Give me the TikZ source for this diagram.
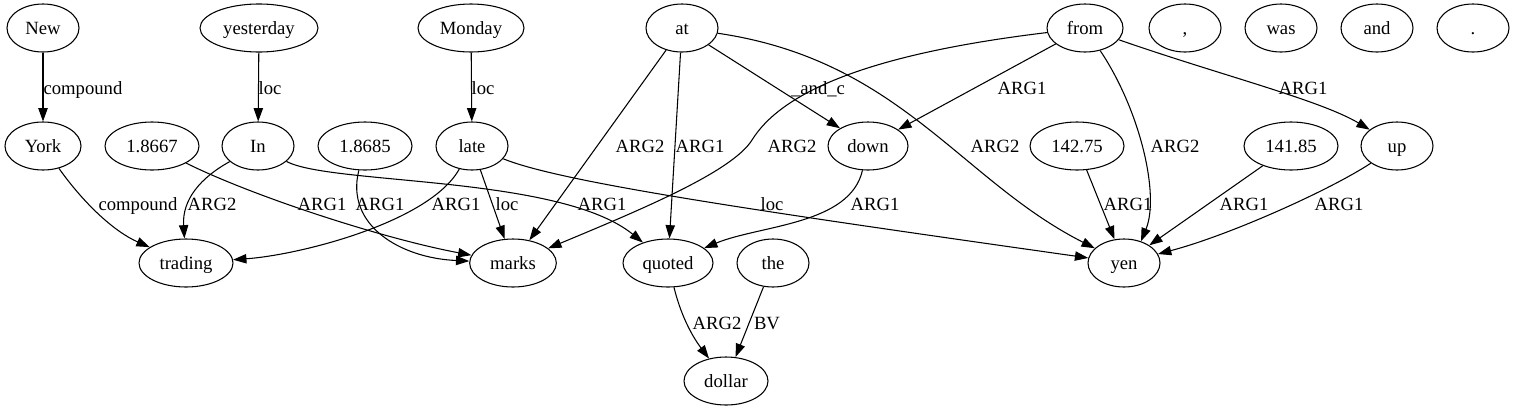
\documentclass[tikz,border=0pt]{standalone}
\usepackage{fontspec}
\setmainfont{Liberation Serif}
\usetikzlibrary{arrows.meta,shapes.geometric}

\begin{document}
\begin{tikzpicture}[->,>={Triangle[length=10pt,width=7pt]},x=0.75pt,y=-0.75pt,line width=0.8pt]
        \tikzstyle{word}=[ellipse,draw=black,text=black,minimum width=54pt,minimum height=36pt,inner sep=1pt,text height=9pt,text depth=0pt,font=\fontsize{14}{16}\selectfont]
        \tikzstyle{lbl}=[inner sep=0pt,text height=9pt,text depth=0pt,font=\fontsize{14}{16}\selectfont]
        \useasboundingbox (0,0) rectangle (1515,411);

        % top row
        \node[word] (new)       at (43,28)   {New};
        \node[word, minimum width=88.5pt] (yesterday) at (259,28) {yesterday};
        \node[word, minimum width=79.5pt] (monday)    at (471,28) {Monday};
        \node[word] (at)        at (682,28)  {at};
        \node[word, minimum width=57pt] (from) at (1085,28) {from};
        \node[word] (comma)     at (1185,28) {,};
        \node[word] (was)       at (1281,28) {was};
        \node[word] (and)       at (1377,28) {and};
        \node[word] (stop)      at (1473,28) {.};

        % second row
        \node[word, minimum width=57pt]   (york)  at (43,146)   {York};
        \node[word, minimum width=70.5pt] (r8667) at (152,146)  {1.8667};
        \node[word] (in)                  at (258,146)  {In};
        \node[word, minimum width=70.5pt] (r8685) at (365,146)  {1.8685};
        \node[word] (late)                at (472,146)  {late};
        \node[word, minimum width=60pt]   (down)  at (868,146)  {down};
        \node[word, minimum width=70.5pt] (y4275) at (1077,146) {142.75};
        \node[word, minimum width=70.5pt] (y4185) at (1291,146) {141.85};
        \node[word] (up)                  at (1397,146) {up};

        % third and fourth row
        \node[word, minimum width=70.5pt] (trading) at (186,263) {trading};
        \node[word, minimum width=65pt]   (marks)   at (513,263) {marks};
        \node[word, minimum width=67.5pt] (quoted)  at (668,263) {quoted};
        \node[word] (the)                 at (773,263)  {the};
        \node[word] (yen)                 at (1124,263) {yen};
        \node[word, minimum width=63pt]   (dollar)  at (726,381) {dollar};

        \draw (new) -- (york) node[lbl] at (83,88) {compound};
        \draw (york) .. controls (85,205) and (115,232) .. (trading) node[lbl] at (138,204) {compound};
        \draw (yesterday) -- (in) node[lbl] at (270,88) {loc};
        \draw (monday) -- (late) node[lbl] at (483,88) {loc};
        \draw (in) .. controls (200,178) and (182,200) .. (trading) node[lbl] at (212,204) {ARG2};
        \draw (r8667) .. controls (250,195) and (380,238) .. (marks) node[lbl] at (322,204) {ARG1};
        \draw (r8685) .. controls (345,225) and (400,258) .. (marks) node[lbl] at (380,204) {ARG1};
        \draw (late) .. controls (430,222) and (300,255) .. (trading) node[lbl] at (456,204) {ARG1};
        \draw (late) -- (marks) node[lbl] at (507,204) {loc};
        \draw (in) .. controls (330,185) and (560,175) .. (quoted) node[lbl] at (602,204) {ARG1};
        \draw (late) .. controls (560,182) and (750,210) .. (yen) node[lbl] at (772,204) {loc};

        \draw (at) -- (marks) node[lbl] at (640,146) {ARG2};
        \draw (at) -- (quoted) node[lbl] at (700,146) {ARG1};
        \draw (at) -- (down) node[lbl] at (818,88) {\_and\_c};
        \draw (at) .. controls (900,60) and (960,180) .. (yen) node[lbl] at (995,146) {ARG2};
        \draw (from) .. controls (860,55) and (780,95) .. (752,140)
                     .. controls (732,172) and (640,210) .. (marks) node[lbl] at (792,146) {ARG2};
        \draw (from) -- (down) node[lbl] at (1022,88) {ARG1};
        \draw (from) .. controls (1140,110) and (1160,195) .. (yen.52) node[lbl] at (1175,146) {ARG2};
        \draw (from) .. controls (1220,75) and (1320,100) .. (up) node[lbl] at (1303,88) {ARG1};

        \draw (y4275) -- (yen) node[lbl] at (1128,204) {ARG1};
        \draw (y4185) -- (yen) node[lbl] at (1244,204) {ARG1};
        \draw (up) .. controls (1330,190) and (1230,235) .. (yen) node[lbl] at (1339,204) {ARG1};
        \draw (down) .. controls (850,225) and (760,225) .. (quoted) node[lbl] at (875,204) {ARG1};

        \draw (quoted) .. controls (682,320) and (695,340) .. (dollar) node[lbl] at (717,323) {ARG2};
        \draw (the) -- (dollar) node[lbl] at (767,323) {BV};
\end{tikzpicture}
\end{document}
